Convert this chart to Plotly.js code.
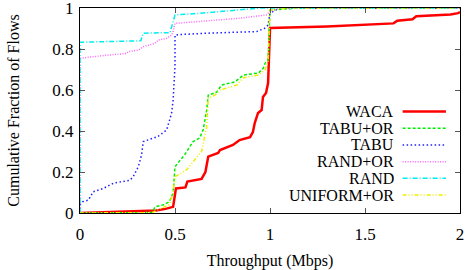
<!DOCTYPE html>
<html><head><meta charset="utf-8">
<script src="https://cdn.plot.ly/plotly-3.0.1.min.js"></script>
<style>body{margin:0;background:#fff}#c{width:466px;height:270px}</style>
</head><body><div id="c"></div>
<script>
const seriesNames = ["WACA", "TABU+OR", "TABU", "RAND+OR", "RAND", "UNIFORM+OR"];
const wacaX = [0, 0.2, 0.4, 0.45, 0.49, 0.5, 0.505, 0.555, 0.565, 0.64, 0.66, 0.675, 0.727, 0.737, 0.805, 0.84, 0.895, 0.91, 0.92, 0.937, 0.956, 0.963, 0.979, 0.99, 0.995, 1.0, 1.0, 1.3, 1.5, 1.65, 1.67, 1.75, 1.77, 1.95, 1.99, 2.0];
const wacaY = [0, 0.005, 0.012, 0.02, 0.03, 0.09, 0.12, 0.125, 0.153, 0.166, 0.2, 0.275, 0.293, 0.307, 0.332, 0.356, 0.37, 0.395, 0.44, 0.488, 0.502, 0.566, 0.585, 0.634, 0.746, 0.85, 0.902, 0.91, 0.917, 0.925, 0.938, 0.945, 0.96, 0.968, 0.975, 0.98];
const tabuOrX = [0, 0.38, 0.395, 0.44, 0.47, 0.49, 0.5, 0.526, 0.55, 0.595, 0.63, 0.648, 0.667, 0.675, 0.72, 0.745, 0.816, 0.86, 0.94, 0.965, 0.974, 0.99, 1.0, 1.15, 2.0];
const tabuOrY = [0, 0.002, 0.03, 0.04, 0.055, 0.097, 0.226, 0.258, 0.283, 0.348, 0.366, 0.405, 0.502, 0.575, 0.59, 0.624, 0.64, 0.673, 0.683, 0.707, 0.73, 0.746, 0.99, 1.0, 1.0];
const tabuX = [0, 0, 0.014, 0.044, 0.07, 0.123, 0.175, 0.263, 0.28, 0.307, 0.324, 0.333, 0.36, 0.41, 0.456, 0.482, 0.49, 0.5, 0.5, 0.52, 0.667, 0.93, 0.97, 0.99, 1.0, 1.05, 2.0];
const tabuY = [0, 0.04, 0.055, 0.063, 0.104, 0.12, 0.145, 0.16, 0.177, 0.226, 0.283, 0.348, 0.357, 0.373, 0.405, 0.486, 0.55, 0.714, 0.868, 0.87, 0.877, 0.885, 0.9, 0.917, 0.975, 1.0, 1.0];
const randOrX = [0, 0, 0.105, 0.246, 0.254, 0.307, 0.333, 0.395, 0.412, 0.456, 0.482, 0.49, 0.5, 0.63, 0.84, 0.98, 1.0, 1.05, 2.0];
const randOrY = [0, 0.755, 0.766, 0.779, 0.787, 0.795, 0.811, 0.828, 0.844, 0.852, 0.868, 0.885, 0.925, 0.934, 0.95, 0.966, 0.982, 1.0, 1.0];
const randX = [0, 0, 0.32, 0.333, 0.474, 0.5, 0.63, 0.84, 0.95, 2.0];
const randY = [0, 0.833, 0.84, 0.877, 0.88, 0.966, 0.974, 0.99, 1.0, 1.0];
const uniformOrX = [0, 0.38, 0.42, 0.47, 0.49, 0.5, 0.56, 0.605, 0.64, 0.667, 0.675, 0.71, 0.737, 0.825, 0.86, 0.94, 0.974, 0.99, 1.0, 1.1, 2.0];
const uniformOrY = [0, 0.002, 0.02, 0.04, 0.1, 0.177, 0.21, 0.258, 0.3, 0.42, 0.56, 0.575, 0.6, 0.624, 0.66, 0.673, 0.698, 0.74, 0.99, 1.0, 1.0];
const xTicks = [0, 0.5, 1, 1.5, 2];
const xTickText = ["0", "0.5", "1", "1.5", "2"];
const yTicks = [0, 0.2, 0.4, 0.6, 0.8, 1];
const yTickText = ["0", "0.2", "0.4", "0.6", "0.8", "1"];

const xs = [wacaX, tabuOrX, tabuX, randOrX, randX, uniformOrX];
const ys = [wacaY, tabuOrY, tabuY, randOrY, randY, uniformOrY];
const colors = ["#ff0000", "#00ee00", "#2020ff", "#ff66ff", "#00eeee", "#eeee00"];
const dashes = ["solid", "3px,2px", "1.5px,2.5px", "1px,1.5px", "5px,2px,1px,2px", "4px,2px,1px,2px,1px,2px"];
const widths = [2.5, 1.5, 1.5, 1.5, 1.5, 1.5];

const traces = seriesNames.map((n, i) => ({
  x: xs[i], y: ys[i], name: n, type: 'scatter', mode: 'lines',
  line: {color: colors[i], width: widths[i], dash: dashes[i]},
  showlegend: false, hoverinfo: 'skip', cliponaxis: true
}));

const fam = 'Liberation Serif';
const font = {family: fam, size: 16, color: '#000'};
const tickFont = {family: fam, size: 17, color: '#000'};
const annotations = [];
const shapes = [];
const legTop = 0.495, legStep = 0.0815;
seriesNames.forEach((n, i) => {
  const yy = legTop - i * legStep;
  annotations.push({xref: 'paper', yref: 'paper', x: 0.832, y: yy, xanchor: 'right', yanchor: 'middle',
    text: n, showarrow: false, font: {family: fam, size: 16, color: '#000'}});
  shapes.push({type: 'line', xref: 'paper', yref: 'paper', x0: 0.849, x1: 0.963, y0: yy, y1: yy,
    line: {color: colors[i], width: widths[i], dash: dashes[i]}});
});

const layout = {
  width: 466, height: 270,
  margin: {l: 80, r: 6, t: 8, b: 57, autoexpand: false},
  paper_bgcolor: '#fff', plot_bgcolor: '#fff',
  font: font,
  showlegend: false,
  xaxis: {range: [0, 2], tickvals: xTicks, ticktext: xTickText, ticks: 'inside', ticklen: 5, tickcolor: '#555',
    showline: true, linecolor: '#000', linewidth: 1, mirror: 'ticks', showgrid: false, zeroline: false,
    ticklabeloverflow: 'allow', ticklabelstandoff: 6, automargin: false,
    title: {text: 'Throughput (Mbps)', font: font, standoff: 12}, tickfont: tickFont},
  yaxis: {range: [0, 1], tickvals: yTicks, ticktext: yTickText, ticks: 'inside', ticklen: 5, tickcolor: '#555',
    showline: true, linecolor: '#000', linewidth: 1, mirror: 'ticks', showgrid: false, zeroline: false,
    ticklabeloverflow: 'allow', ticklabelstandoff: 2, automargin: false,
    title: {text: 'Cumulative Fraction of Flows', font: font, standoff: 28}, tickfont: tickFont},
  annotations: annotations,
  shapes: shapes
};
Plotly.newPlot('c', traces, layout, {staticPlot: true, displayModeBar: false});
</script></body></html>
